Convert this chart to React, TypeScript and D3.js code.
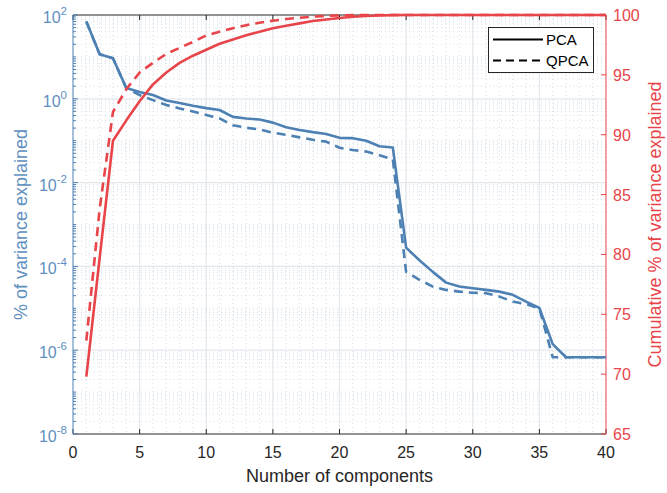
import React from "react";
import * as d3 from "d3";

const components = [1,2,3,4,5,6,7,8,9,10,11,12,13,14,15,16,17,18,19,20,21,22,23,24,25,26,27,28,29,30,31,32,33,34,35,36,37,38,39,40];

const pcaVar = [70, 11.5, 9.3, 1.8, 1.45, 1.23, 0.91, 0.79, 0.68, 0.6, 0.54, 0.37, 0.34, 0.32, 0.27, 0.21, 0.18, 0.16, 0.145, 0.117, 0.115, 0.1, 0.074, 0.069, 2.8e-4, 1.4e-4, 7.4e-5, 4.1e-5, 3.3e-5, 3.0e-5, 2.75e-5, 2.5e-5, 2.1e-5, 1.45e-5, 1.02e-5, 1.4e-6, 6.8e-7, 6.8e-7, 6.8e-7, 6.8e-7];

const qpcaVar = [70, 11.5, 9.3, 1.8, 1.23, 0.93, 0.71, 0.59, 0.5, 0.41, 0.34, 0.234, 0.204, 0.186, 0.155, 0.138, 0.12, 0.105, 0.095, 0.068, 0.06, 0.055, 0.045, 0.036, 7.4e-5, 4.8e-5, 3.3e-5, 2.75e-5, 2.5e-5, 2.35e-5, 2.3e-5, 1.9e-5, 1.45e-5, 1.26e-5, 1.0e-5, 6.8e-7, 6.8e-7, 6.8e-7, 6.8e-7, 6.8e-7];

const pcaCum = [69.8, 79.7, 89.5, 91.2, 92.8, 94.2, 95.2, 96.0, 96.6, 97.1, 97.6, 97.95, 98.3, 98.6, 98.9, 99.1, 99.3, 99.5, 99.62, 99.75, 99.85, 99.92, 99.96, 99.99, 100, 100, 100, 100, 100, 100, 100, 100, 100, 100, 100, 100, 100, 100, 100, 100];

const qpcaCum = [72.8, 83.8, 91.9, 93.8, 95.2, 96.0, 96.75, 97.25, 97.75, 98.3, 98.6, 98.9, 99.15, 99.36, 99.52, 99.66, 99.77, 99.86, 99.92, 99.97, 99.99, 100, 100, 100, 100, 100, 100, 100, 100, 100, 100, 100, 100, 100, 100, 100, 100, 100, 100, 100];

const xTicks = [0, 5, 10, 15, 20, 25, 30, 35, 40];
const leftExps = [-8, -6, -4, -2, 0, 2];
const rightTicks = [65, 70, 75, 80, 85, 90, 95, 100];
const seriesNames = ["PCA", "QPCA"];

const W = 667, H = 493;
const M = { left: 73, right: 606, top: 15, bottom: 434 };
const BLUE = "#4d80b3";
const BLUE_TXT = "#5f8fc0";
const RED = "#e8454a";
const FONT = "'Liberation Sans', Arial, Helvetica, sans-serif";

export default function App() {
  const x = d3.scaleLinear().domain([0, 40]).range([M.left, M.right]);
  const yL = d3.scaleLog().domain([1e-8, 1e2]).range([M.bottom, M.top]);
  const yR = d3.scaleLinear().domain([65, 100]).range([M.bottom, M.top]);

  const lineL = (vals: number[]) =>
    d3.line<number>().x((_, i) => x(components[i])).y((v) => yL(v))(vals) || "";
  const lineR = (vals: number[]) =>
    d3.line<number>().x((_, i) => x(components[i])).y((v) => yR(v))(vals) || "";

  const minorY: number[] = [];
  for (let e = -8; e < 2; e++) {
    for (let m = 1; m <= 9; m++) {
      const v = m * Math.pow(10, e);
      if (m === 1 && leftExps.includes(e)) continue;
      minorY.push(v);
    }
  }
  const minorX: number[] = [];
  for (let i = 1; i < 40; i++) if (i % 5 !== 0) minorX.push(i);

  const dash = "9,6";

  return (
    <svg width={W} height={H} style={{ position: "absolute", left: 0, top: 0, background: "#fff" }} fontFamily={FONT}>
      <rect x={0} y={0} width={W} height={H} fill="#fff" />
      {/* minor grid */}
      <g stroke="#d6e0ea" strokeWidth={1} strokeDasharray="1,3">
        {minorY.map((v, i) => (
          <line key={"my" + i} x1={M.left} x2={M.right} y1={yL(v)} y2={yL(v)} />
        ))}
        {minorX.map((v, i) => (
          <line key={"mx" + i} x1={x(v)} x2={x(v)} y1={M.top} y2={M.bottom} />
        ))}
      </g>
      {/* major grid */}
      <g stroke="#e3e7ec" strokeWidth={1.2}>
        {leftExps.slice(1, -1).map((e) => (
          <line key={"gy" + e} x1={M.left} x2={M.right} y1={yL(Math.pow(10, e))} y2={yL(Math.pow(10, e))} />
        ))}
        {xTicks.slice(1, -1).map((t) => (
          <line key={"gx" + t} x1={x(t)} x2={x(t)} y1={M.top} y2={M.bottom} />
        ))}
      </g>

      <line x1={M.left} x2={M.right} y1={M.top} y2={M.top} stroke="#262626" strokeWidth={1} />
      <line x1={M.left} x2={M.right} y1={M.bottom} y2={M.bottom} stroke="#262626" strokeWidth={1} />
      {xTicks.map((t) => (
        <g key={"xt" + t} stroke="#262626">
          <line x1={x(t)} x2={x(t)} y1={M.bottom} y2={M.bottom - 5} />
          <line x1={x(t)} x2={x(t)} y1={M.top} y2={M.top + 5} />
        </g>
      ))}
      {xTicks.map((t) => (
        <text key={"xl" + t} x={x(t)} y={458} textAnchor="middle" fontSize={16} fill="#262626">{t}</text>
      ))}
      <text x={(M.left + M.right) / 2} y={482} textAnchor="middle" fontSize={18} fill="#262626">Number of components</text>

      {/* left axis */}
      <line x1={M.left} x2={M.left} y1={M.top} y2={M.bottom} stroke={BLUE} strokeWidth={1} />
      {leftExps.map((e) => (
        <line key={"lt" + e} x1={M.left} x2={M.left + 5} y1={yL(Math.pow(10, e))} y2={yL(Math.pow(10, e))} stroke={BLUE} />
      ))}
      {minorY.map((v, i) => (
        <line key={"lmt" + i} x1={M.left} x2={M.left + 3} y1={yL(v)} y2={yL(v)} stroke={BLUE} />
      ))}
      {leftExps.map((e) => (
        <text key={"ll" + e} x={67} y={yL(Math.pow(10, e)) + 8} textAnchor="end" fontSize={16} fill={BLUE_TXT}>
          10<tspan dy={-8} fontSize={11.5}>{String(e)}</tspan>
        </text>
      ))}
      <text transform={`translate(27,${(M.top + M.bottom) / 2}) rotate(-90)`} textAnchor="middle" fontSize={18} fill={BLUE_TXT}>% of variance explained</text>

      {/* right axis */}
      <line x1={M.right} x2={M.right} y1={M.top} y2={M.bottom} stroke={RED} strokeWidth={1} />
      {rightTicks.map((t) => (
        <line key={"rt" + t} x1={M.right} x2={M.right - 5} y1={yR(t)} y2={yR(t)} stroke={RED} />
      ))}
      {rightTicks.map((t) => (
        <text key={"rl" + t} x={613} y={yR(t) + 6} textAnchor="start" fontSize={16} fill={RED}>{t}</text>
      ))}
      <text transform={`translate(661,${(M.top + M.bottom) / 2}) rotate(-90)`} textAnchor="middle" fontSize={18} fill={RED}>Cumulative % of variance explained</text>

      {/* data */}
      <g fill="none" strokeWidth={2.6} strokeLinejoin="round">
        <path d={lineL(qpcaVar)} stroke={BLUE} strokeDasharray={dash} />
        <path d={lineL(pcaVar)} stroke={BLUE} />
        <path d={lineR(qpcaCum)} stroke={RED} strokeDasharray={dash} />
        <path d={lineR(pcaCum)} stroke={RED} />
      </g>

      {/* legend */}
      <g>
        <rect x={488.5} y={27.5} width={105} height={45} fill="#fff" stroke="#262626" strokeWidth={1} />
        <line x1={493} x2={543} y1={39.5} y2={39.5} stroke="#000" strokeWidth={2} />
        <line x1={493} x2={543} y1={60.5} y2={60.5} stroke="#000" strokeWidth={2} strokeDasharray="8,5" />
        <text x={546} y={45} fontSize={15} fill="#000">{seriesNames[0]}</text>
        <text x={546} y={66} fontSize={15} fill="#000">{seriesNames[1]}</text>
      </g>
    </svg>
  );
}
